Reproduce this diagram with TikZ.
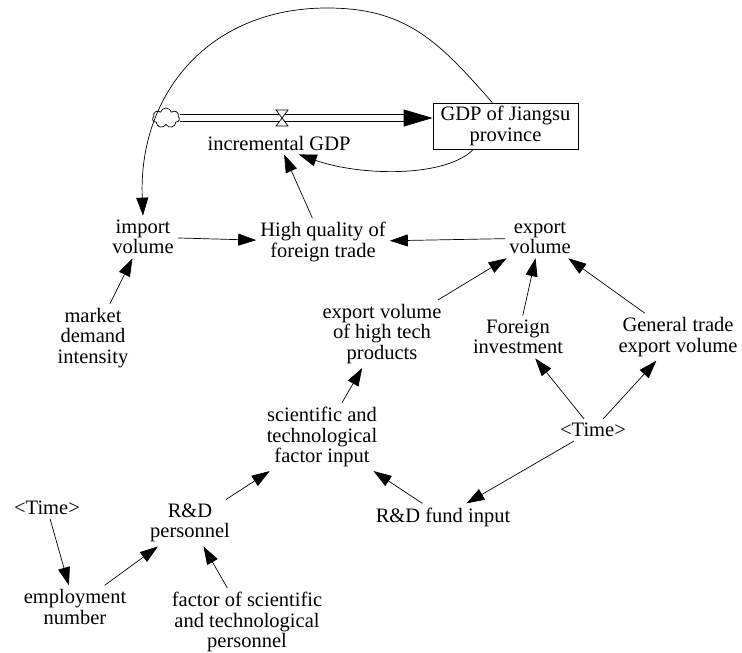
\documentclass[tikz,border=0pt]{standalone}
\usepackage{fontspec}
\setmainfont{Liberation Serif}
\usetikzlibrary{arrows.meta,calc,shapes.symbols}
\begin{document}
\begin{tikzpicture}[x=1pt,y=-1pt,
  lbl/.style={align=center,inner sep=4pt,font=\fontsize{20.5}{20.5}\selectfont},
  conn/.style={line width=0.7pt,-{Triangle[length=18pt,width=12pt]}},
  pipeline/.style={double,double distance=5.5pt,line width=0.8pt},
  pipetip/.style={line width=0.8pt,-{Triangle[length=29pt,width=17pt]}},
  stock/.style={draw,line width=0.8pt,minimum width=145pt,minimum height=46pt,inner sep=0pt,align=center,font=\fontsize{20.5}{21}\selectfont},
]
\useasboundingbox (0,0) rectangle (742,653);

% stock and flow
\node[stock] (gdp) at (505.5,126) {GDP of Jiangsu\\province};
\node[cloud, cloud puffs=7, draw, minimum width=27pt, minimum height=20pt, inner sep=0pt, line width=0.7pt, fill=white] (cloud) at (166,118) {};
\coordinate (pipeend) at (cloud.east -| gdp.west);
\coordinate (valve) at (282,118);
\draw[pipeline] (cloud.east) -- ($(pipeend)+(-28,0)$);
\draw[pipetip] ($(pipeend)+(-29,0)$) -- (pipeend);
\draw[line width=0.7pt,fill=white] ($(valve)+(-6,-8)$) -- ($(valve)+(6,-8)$) -- ($(valve)+(-6,8)$) -- ($(valve)+(6,8)$) -- cycle;
\node[lbl] (incr) at (279,143) {incremental GDP};

% variables
\node[lbl] (imp)  at (143,237) {import\\volume};
\node[lbl] (hq)   at (323,242) {High quality of\\foreign trade};
\node[lbl] (exp)  at (540,238) {export\\volume};
\node[lbl] (mdi)  at (93,338)  {market\\demand\\intensity};
\node[lbl] (evht) at (382,334) {export volume\\of high tech\\products};
\node[lbl] (fi)   at (518,337) {Foreign\\investment};
\node[lbl] (gte)  at (678,337) {General trade\\export volume};
\node[lbl] (sfi)  at (322,437) {scientific and\\technological\\factor input};
\node[lbl] (timeA) at (593,430) {<Time>};
\node[lbl] (rdp)  at (190,523) {R\&D\\personnel};
\node[lbl] (rdf)  at (443,517) {R\&D fund input};
\node[lbl] (timeB) at (47,508) {<Time>};
\node[lbl] (emp)  at (75,607)  {employment\\number};
\node[lbl] (fstp) at (247,622) {factor of scientific\\and technological\\personnel};

% links
\coordinate (arctop) at (327,8);
\draw[conn] ($(gdp.north west)!0.41!(gdp.north east)$) .. controls (439,42) and (407,8) .. (arctop) .. controls (209,8) and (138,94) .. (imp.north);
\draw[conn] ($(gdp.south west)!0.28!(gdp.south east)$) .. controls (445,178) and (360,176) .. (incr.-30);
\draw[conn] (hq) -- (incr);
\draw[conn] (imp) -- (hq);
\draw[conn] (exp) -- (hq);
\draw[conn] (mdi) -- (imp);
\draw[conn] (evht) -- (exp);
\draw[conn] (fi) -- (exp);
\draw[conn] (gte) -- (exp);
\draw[conn] (timeA) -- (fi);
\draw[conn] (timeA) -- (gte);
\draw[conn] (timeA) -- (rdf);
\draw[conn] (rdf) -- (sfi);
\draw[conn] (sfi) -- (evht);
\draw[conn] (rdp) -- (sfi);
\draw[conn] (timeB) -- (emp);
\draw[conn] (emp) -- (rdp);
\draw[conn] (fstp) -- (rdp);
\end{tikzpicture}
\end{document}
